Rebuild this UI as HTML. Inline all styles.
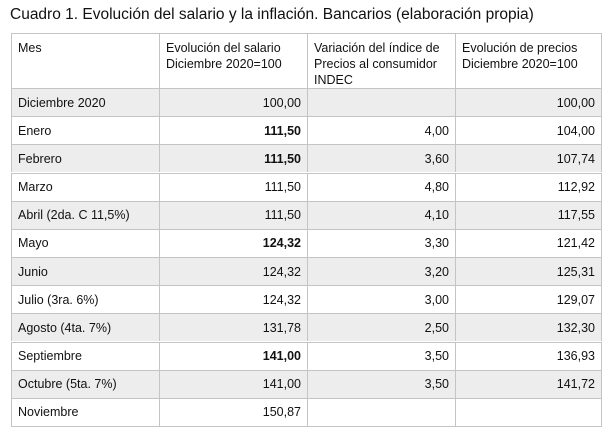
<!DOCTYPE html>
<html><head><meta charset="utf-8"><style>
body{margin:0;width:613px;height:440px;background:#fff;font-family:"Liberation Sans",Arial,sans-serif;color:#111;position:relative;overflow:hidden}
.title{position:absolute;left:10px;top:6px;font-size:15.5px;white-space:nowrap}
.row{position:absolute;left:11px;width:591px}
.c{position:absolute;top:0;bottom:0;border-left:1px solid #c4c4c4;border-top:1px solid #c4c4c4;box-sizing:border-box;font-size:12.5px;padding:0 6px;display:flex;align-items:center}
.c.r{justify-content:flex-end}
.hdr .c{align-items:flex-start;padding-top:6px;line-height:16px}
.c0{left:0;width:148px}.c1{left:148px;width:148px}.c2{left:296px;width:148px}.c3{left:444px;width:147px;border-right:1px solid #c4c4c4}
.g{background:#ededed}
b{font-weight:bold}
.bot{position:absolute;left:11px;width:591px;top:426px;border-top:1px solid #c4c4c4}
</style></head><body>
<div class="title">Cuadro 1. Evolución del salario y la inflación. Bancarios (elaboración propia)</div>
<div id="tbl">
<div class="row hdr" style="top:33px;height:55px">
<div class="c c0">Mes</div>
<div class="c c1">Evolución del salario<br>Diciembre 2020=100</div>
<div class="c c2">Variación del índice de<br>Precios al consumidor<br>INDEC</div>
<div class="c c3">Evolución de precios<br>Diciembre 2020=100</div>
</div>
</div>
<div class="bot"></div>
<script>
const months=["Diciembre 2020","Enero","Febrero","Marzo","Abril (2da. C 11,5%)","Mayo","Junio","Julio (3ra. 6%)","Agosto (4ta. 7%)","Septiembre","Octubre (5ta. 7%)","Noviembre"];
const salary=["100,00","111,50","111,50","111,50","111,50","124,32","124,32","124,32","131,78","141,00","141,00","150,87"];
const salaryBold=[0,1,1,0,0,1,0,0,0,1,0,0];
const ipc=["","4,00","3,60","4,80","4,10","3,30","3,20","3,00","2,50","3,50","3,50",""];
const prices=["100,00","104,00","107,74","112,92","117,55","121,42","125,31","129,07","132,30","136,93","141,72",""];
const tbl=document.getElementById('tbl');
const rh=(426-88)/months.length;
months.forEach((m,i)=>{
 const row=document.createElement('div');
 
 
 row.className='row'+(i%2===0?' g':'');
 row.style.top=(88+i*rh)+'px';row.style.height=rh+'px';
 const vals=[m,salary[i],ipc[i],prices[i]];
 vals.forEach((v,j)=>{
  const c=document.createElement('div');
  
  
  c.className='c c'+j+(j>0?' r':'');
  if(j===1&&salaryBold[i]){const b=document.createElement('b');b.textContent=v;c.appendChild(b);}
  else c.textContent=v;
  row.appendChild(c);
 });
 tbl.appendChild(row);
});
</script>
</body></html>
